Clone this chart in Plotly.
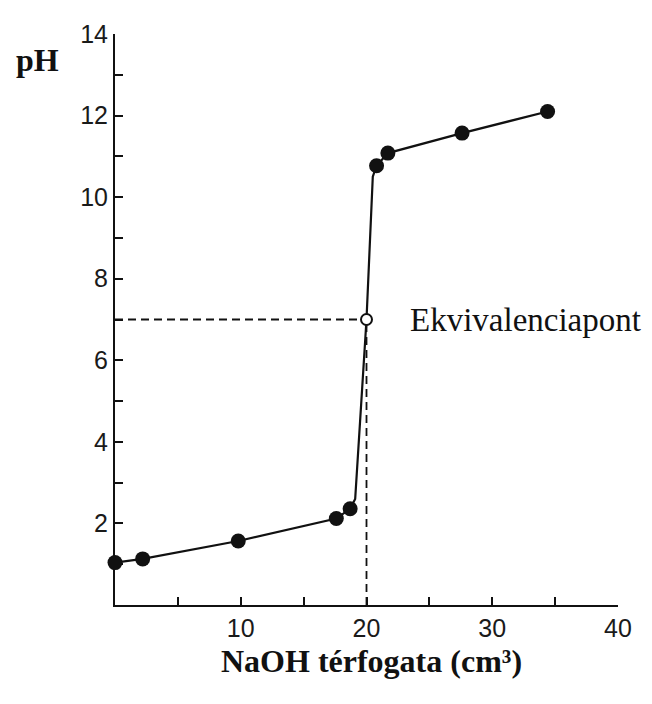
import plotly.graph_objects as go

# Measured titration points (NaOH volume in cm3, pH)
vol_points = [0.0, 2.2, 9.8, 17.6, 18.7, 20.8, 21.7, 27.6, 34.4]
ph_points = [1.04, 1.13, 1.57, 2.12, 2.36, 10.77, 11.08, 11.57, 12.1]

# Drawn titration curve
curve_vol = [0.0, 2.2, 9.8, 17.6, 18.7, 19.1, 20.0, 20.5, 20.8, 21.7, 27.6, 34.4]
curve_ph = [1.04, 1.13, 1.57, 2.12, 2.36, 2.6, 7.0, 10.5, 10.77, 11.08, 11.57, 12.1]

# Equivalence point
eq_vol = [20.0]
eq_ph = [7.0]

x_tick_vals = [5, 10, 15, 20, 25, 30, 35, 40]
x_tick_text = ["", "10", "", "20", "", "30", "", "40"]
y_tick_vals = list(range(1, 15))
y_tick_text = ["", "2", "", "4", "", "6", "", "8", "", "10", "", "12", "", "14"]

fig = go.Figure()

# dashed guide lines to the equivalence point
fig.add_trace(go.Scatter(x=[0, eq_vol[0]], y=[eq_ph[0], eq_ph[0]], mode="lines",
                         line=dict(color="#111", width=1.8, dash="8px,5px"),
                         hoverinfo="skip", showlegend=False, cliponaxis=False))
fig.add_trace(go.Scatter(x=[eq_vol[0], eq_vol[0]], y=[0, eq_ph[0]], mode="lines",
                         line=dict(color="#111", width=1.8, dash="8px,5px"),
                         hoverinfo="skip", showlegend=False, cliponaxis=False))

fig.add_trace(go.Scatter(x=curve_vol, y=curve_ph, mode="lines",
                         line=dict(color="#111", width=2.2),
                         showlegend=False, cliponaxis=False))
fig.add_trace(go.Scatter(x=vol_points, y=ph_points, mode="markers",
                         marker=dict(color="#111", size=15),
                         showlegend=False, cliponaxis=False))
fig.add_trace(go.Scatter(x=eq_vol, y=eq_ph, mode="markers",
                         marker=dict(color="white", size=11, line=dict(color="#111", width=2)),
                         showlegend=False, cliponaxis=False))

fig.update_xaxes(range=[0, 40], showline=True, linecolor="#111", linewidth=2,
                 ticks="inside", ticklen=8, tickwidth=2, tickcolor="#111",
                 tickvals=x_tick_vals, ticktext=x_tick_text,
                 showgrid=False, zeroline=False,
                 tickfont=dict(family="Liberation Sans", size=25, color="#1a1a1a"))
fig.update_yaxes(range=[0, 14], showline=True, linecolor="#111", linewidth=2,
                 ticks="inside", ticklen=8, tickwidth=2, tickcolor="#111",
                 tickvals=y_tick_vals, ticktext=y_tick_text,
                 showgrid=False, zeroline=False,
                 tickfont=dict(family="Liberation Sans", size=25, color="#1a1a1a"))

fig.add_annotation(x=23.3, y=7.0, xref="x", yref="y", text="Ekvivalenciapont",
                   showarrow=False, xanchor="left", yanchor="middle",
                   font=dict(family="Liberation Serif", size=33, color="#111"))
fig.add_annotation(x=-0.155, y=0.955, xref="paper", yref="paper", text="<b>pH</b>",
                   showarrow=False, xanchor="center", yanchor="middle",
                   font=dict(family="Liberation Serif", size=32, color="#111"))
fig.add_annotation(x=0.51, y=-0.098, xref="paper", yref="paper",
                   text="<b>NaOH térfogata (cm³)</b>",
                   showarrow=False, xanchor="center", yanchor="middle",
                   font=dict(family="Liberation Serif", size=32, color="#111"))

fig.update_layout(width=636, height=688, plot_bgcolor="white", paper_bgcolor="white",
                  margin=dict(l=107, r=16, t=18, b=91), showlegend=False)

fig.write_html("out.html")
